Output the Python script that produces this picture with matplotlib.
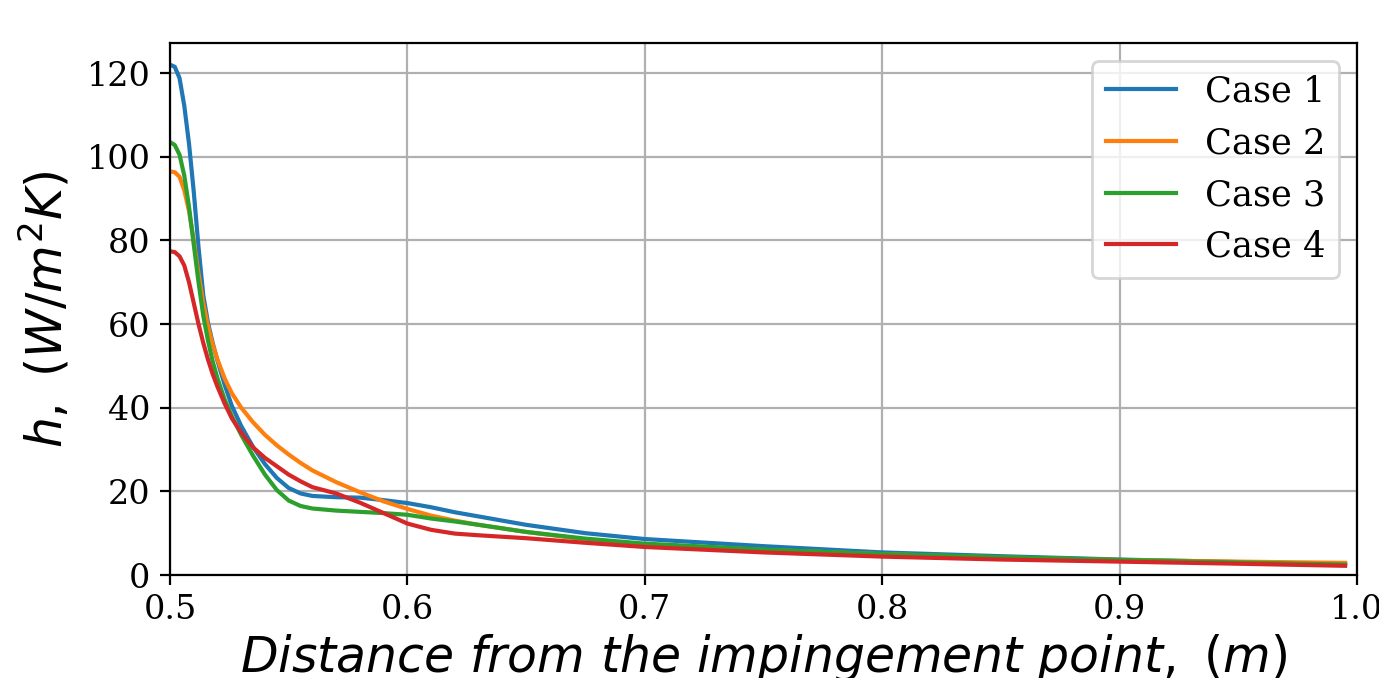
import matplotlib
matplotlib.use("Agg")
import matplotlib.pyplot as plt

# distance from the impingement point (m)
distance = [0.500, 0.502, 0.504, 0.506, 0.508, 0.510, 0.512, 0.514, 0.516,
            0.518, 0.520, 0.523, 0.526, 0.530, 0.535, 0.540, 0.545, 0.550,
            0.555, 0.560, 0.570, 0.580, 0.590, 0.600, 0.610, 0.620, 0.630,
            0.650, 0.675, 0.700, 0.750, 0.800, 0.850, 0.900, 0.950, 0.995]

# heat transfer coefficient h (W/m^2K) per case
case1 = [122.0, 121.5, 118.8, 112.2, 103.1, 91.6, 78.4, 66.9, 60.3,
         55.4, 51.2, 45.5, 40.5, 35.6, 30.6, 26.5, 23.2, 20.8,
         19.5, 18.9, 18.6, 18.5, 17.9, 17.2, 16.2, 15.0, 14.0,
         12.0, 10.0, 8.6, 6.9, 5.4, 4.5, 3.7, 3.1, 2.6]
case2 = [96.5, 96.3, 95.2, 92.0, 87.0, 80.0, 72.0, 65.0, 59.5,
         55.0, 51.5, 47.0, 43.5, 40.0, 36.5, 33.5, 31.0, 28.8,
         26.8, 25.0, 22.2, 19.8, 17.6, 15.8, 14.2, 13.0, 12.0,
         10.3, 8.5, 7.3, 6.0, 5.0, 4.2, 3.6, 3.2, 2.9]
case3 = [103.5, 102.8, 100.5, 95.5, 88.0, 79.0, 70.0, 62.0, 56.0,
         51.0, 47.0, 42.0, 38.0, 33.5, 28.5, 24.0, 20.3, 17.8,
         16.5, 15.9, 15.4, 15.1, 14.8, 14.4, 13.5, 12.8, 12.0,
         10.3, 8.7, 7.5, 6.1, 5.0, 4.3, 3.6, 3.0, 2.5]
case4 = [77.4, 77.2, 76.2, 74.0, 70.0, 65.0, 60.0, 55.5, 51.5,
         48.0, 45.0, 41.0, 37.5, 34.0, 30.5, 28.0, 26.0, 24.0,
         22.4, 21.0, 19.5, 17.3, 14.8, 12.3, 10.8, 9.9, 9.5,
         8.8, 7.7, 6.7, 5.4, 4.4, 3.7, 3.2, 2.7, 2.2]

labels = ["Case 1", "Case 2", "Case 3", "Case 4"]

fig = plt.figure(figsize=(6.895, 3.39), dpi=200)
ax = fig.add_axes([0.1233, 0.1519, 0.8607, 0.7847])

for h, lab in zip([case1, case2, case3, case4], labels):
    ax.plot(distance, h, label=lab)

ax.set_xlim(0.5, 1.0)
ax.set_ylim(0, 127.2)
ax.grid(True)
ax.set_xlabel(r"$Distance\ from\ the\ impingement\ point,\ (m)$", fontsize=17.6,
              labelpad=2)
ax.set_ylabel(r"$h,\ (W/m^2K)$", fontsize=17.6, labelpad=5)
for t in ax.get_xticklabels() + ax.get_yticklabels():
    t.set_fontfamily("DejaVu Serif")
    t.set_fontsize(12)
ax.legend(loc="upper right", prop={"family": "DejaVu Serif", "size": 12.7})

fig.savefig("out.png", dpi=200)
